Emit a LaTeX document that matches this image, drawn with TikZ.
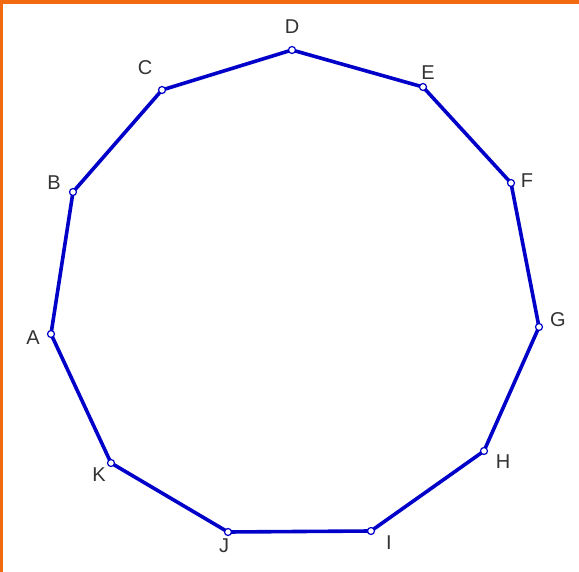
\documentclass[tikz,border=0pt]{standalone}
\usepackage{fontspec}
\setmainfont{Liberation Sans}
\definecolor{frame}{HTML}{F26A10}
\definecolor{edge}{HTML}{0000C8}
\definecolor{lab}{HTML}{333333}
\tikzset{
  vtx/.style={circle,draw=edge,fill=white,line width=1.2pt,inner sep=0pt,minimum size=7pt},
  lbl/.style={text=lab,font=\fontsize{20}{20}\selectfont,inner sep=0pt},
  side/.style={draw=edge,line width=3.6pt,line join=round}
}
\begin{document}
\begin{tikzpicture}[x=1pt,y=-1pt]
\useasboundingbox (0,0) rectangle (579,572);
\fill[white] (0,0) rectangle (579,572);
\fill[frame] (0,0) rectangle (579,4);
\fill[frame] (0,0) rectangle (3,572);
\coordinate (A) at (51,334);
\coordinate (B) at (73,192);
\coordinate (C) at (162,90);
\coordinate (D) at (292,50);
\coordinate (E) at (423,87);
\coordinate (F) at (511,183);
\coordinate (G) at (539,327);
\coordinate (H) at (484,451);
\coordinate (I) at (371,531);
\coordinate (J) at (228,532);
\coordinate (K) at (111,463);
\draw[side] (A) -- (B) -- (C) -- (D) -- (E) -- (F) -- (G) -- (H) -- (I) -- (J) -- (K) -- cycle;
\foreach \p in {A,B,C,D,E,F,G,H,I,J,K} \node[vtx] (v\p) at (\p) {};
\node[lbl] (lA) at (33,338) {A};
\node[lbl] (lB) at (54,183) {B};
\node[lbl] (lC) at (145,68) {C};
\node[lbl] (lD) at (292,27) {D};
\node[lbl] (lE) at (428,73) {E};
\node[lbl] (lF) at (527,181) {F};
\node[lbl] (lG) at (558,320) {G};
\node[lbl] (lH) at (503,462) {H};
\node[lbl] (lI) at (389,543) {I};
\node[lbl] (lJ) at (224,546) {J};
\node[lbl] (lK) at (99,475) {K};
\end{tikzpicture}
\end{document}
